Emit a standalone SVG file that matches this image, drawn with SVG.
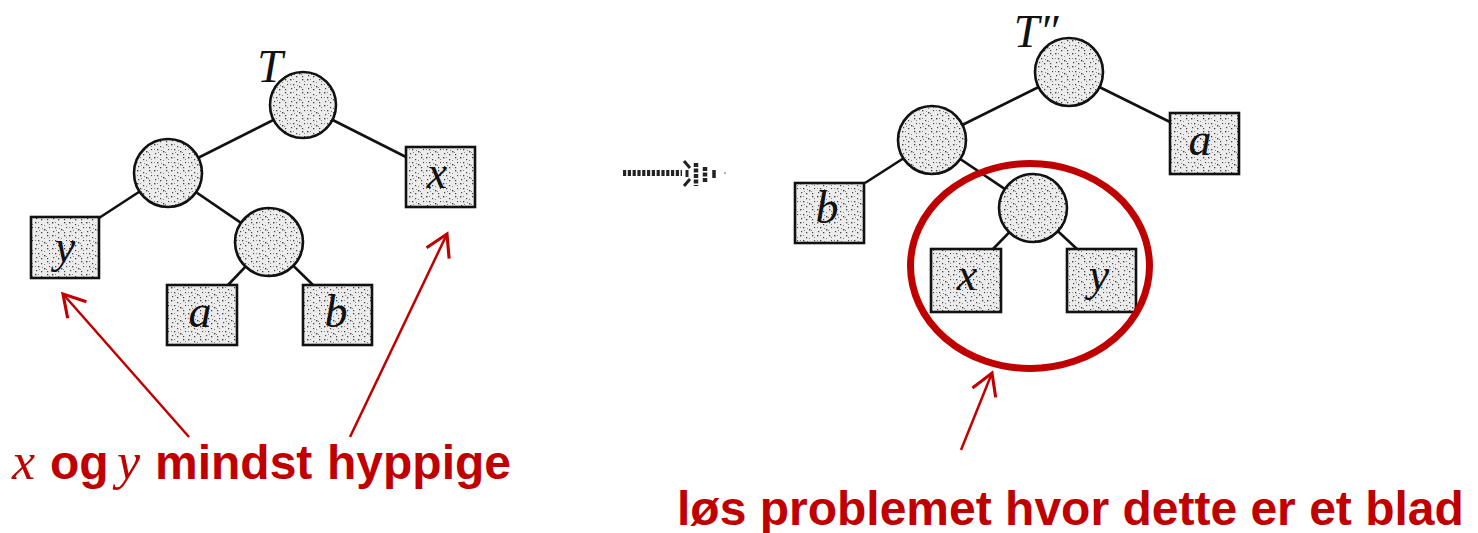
<svg xmlns="http://www.w3.org/2000/svg" width="1478" height="533" viewBox="0 0 1478 533">
<defs>
<pattern id="stip" width="17" height="13" patternUnits="userSpaceOnUse">
<rect width="17" height="13" fill="#ececec"/>
<g fill="#444">
<rect x="1" y="1" width="1.4" height="1.4"/>
<rect x="7" y="3" width="1.2" height="1.2"/>
<rect x="13" y="1" width="1.3" height="1.3"/>
<rect x="4" y="6" width="1.3" height="1.3"/>
<rect x="10" y="8" width="1.4" height="1.4"/>
<rect x="15" y="6" width="1.1" height="1.1"/>
<rect x="2" y="10" width="1.2" height="1.2"/>
<rect x="7" y="11" width="1.3" height="1.3"/>
<rect x="13" y="11" width="1.2" height="1.2"/>
</g>
<g fill="#888">
<rect x="4" y="1" width="1" height="1"/>
<rect x="10" y="4" width="1" height="1"/>
<rect x="1" y="6" width="1" height="1"/>
<rect x="8" y="7" width="1" height="1"/>
<rect x="12" y="9" width="1" height="1"/>
<rect x="5" y="9" width="1" height="1"/>
<rect x="15" y="3" width="1" height="1"/>
</g>
</pattern>
<marker id="ah" markerUnits="userSpaceOnUse" markerWidth="30" markerHeight="30" viewBox="-20 -12 22 24" refX="0" refY="0" orient="auto">
<path d="M-17,-10 L0,0 L-17,10" fill="none" stroke="#C00000" stroke-width="2.5"/>
</marker>
<style>
.n{fill:url(#stip);stroke:#111;stroke-width:2.6}
.e{stroke:#111;stroke-width:2.6;fill:none}
.lb{font-family:"Liberation Serif",serif;font-style:italic;font-size:46px;fill:#111;text-anchor:middle}
.red{stroke:#C00000;stroke-width:2.5;fill:none}
.rt{font-family:"Liberation Sans",Arial,sans-serif;font-weight:bold;font-size:48px;fill:#C00000}
.ri{font-family:"Liberation Serif",serif;font-style:italic;font-weight:normal;font-size:52px;fill:#C00000}
.da{stroke:#222;fill:none}
</style>
</defs>
<rect width="1478" height="533" fill="#ffffff"/>

<g id="connectors">
<line class="e" x1="303" y1="105" x2="168" y2="173"/>
<line class="e" x1="303" y1="105" x2="406" y2="157"/>
<line class="e" x1="168" y1="173" x2="99" y2="218"/>
<line class="e" x1="168" y1="173" x2="269" y2="242"/>
<line class="e" x1="269" y1="242" x2="228" y2="285"/>
<line class="e" x1="269" y1="242" x2="313" y2="285"/>
<line class="e" x1="1069" y1="72" x2="932" y2="140"/>
<line class="e" x1="1069" y1="72" x2="1170" y2="122"/>
<line class="e" x1="932" y1="140" x2="865" y2="183"/>
<line class="e" x1="932" y1="140" x2="1033" y2="208"/>
<line class="e" x1="1033" y1="208" x2="993" y2="249"/>
<line class="e" x1="1033" y1="208" x2="1077" y2="249"/>
</g>

<g id="left-root"><circle class="n" cx="303" cy="105" r="33"/><text class="lb" x="270" y="82" font-size="44">T</text></g>
<g id="left-inner1"><circle class="n" cx="168" cy="173" r="34"/></g>
<g id="left-inner2"><circle class="n" cx="269" cy="242" r="34"/></g>
<g id="left-x"><rect class="n" x="406" y="147" width="69" height="60"/><text class="lb" x="437" y="188">x</text></g>
<g id="left-y"><rect class="n" x="31" y="217" width="68" height="61"/><text class="lb" x="65" y="262">y</text></g>
<g id="left-a"><rect class="n" x="167" y="285" width="70" height="60"/><text class="lb" x="200" y="327">a</text></g>
<g id="left-b"><rect class="n" x="303" y="285" width="69" height="60"/><text class="lb" x="336" y="327">b</text></g>

<g id="transform-arrow">
<line class="da" x1="623" y1="173" x2="682" y2="173" stroke-width="6" stroke-dasharray="3.2 1.6"/>
<line class="da" x1="684" y1="161" x2="690" y2="168" stroke-width="3"/>
<line class="da" x1="684" y1="186" x2="690" y2="179" stroke-width="3"/>
<line class="da" x1="687" y1="170" x2="687" y2="177" stroke-width="3"/>
<line class="da" x1="696" y1="163" x2="696" y2="186" stroke-width="4.5" stroke-dasharray="4 1.5"/>
<line class="da" x1="705" y1="167" x2="705" y2="183" stroke-width="4.5" stroke-dasharray="4 1.5"/>
<line class="da" x1="714" y1="170" x2="714" y2="178" stroke-width="3.5"/>
<circle cx="725" cy="173" r="1" fill="#999"/>
</g>

<g id="right-root"><circle class="n" cx="1069" cy="72" r="34"/><text class="lb" x="1036" y="47" font-size="44">T″</text></g>
<g id="right-inner1"><circle class="n" cx="932" cy="140" r="34"/></g>
<g id="right-inner2"><circle class="n" cx="1033" cy="208" r="34"/></g>
<g id="right-a"><rect class="n" x="1170" y="113" width="69" height="61"/><text class="lb" x="1200" y="155">a</text></g>
<g id="right-b"><rect class="n" x="795" y="183" width="69" height="60"/><text class="lb" x="827" y="223">b</text></g>
<g id="right-x"><rect class="n" x="931" y="249" width="70" height="63"/><text class="lb" x="967" y="290">x</text></g>
<g id="right-y"><rect class="n" x="1067" y="249" width="69" height="63"/><text class="lb" x="1099" y="290">y</text></g>

<g id="highlight">
<ellipse cx="1030" cy="266" rx="119.5" ry="102.5" fill="none" stroke="#C00000" stroke-width="7"/>
</g>

<g id="annotations">
<line class="red" x1="189" y1="437" x2="63" y2="294" marker-end="url(#ah)"/>
<line class="red" x1="350" y1="437" x2="447" y2="234" marker-end="url(#ah)"/>
<line class="red" x1="961" y1="450" x2="992" y2="373" marker-end="url(#ah)"/>
<text y="479"><tspan class="ri" x="12">x</tspan><tspan class="rt" x="50">og</tspan><tspan class="ri" x="117">y</tspan><tspan class="rt" x="155">mindst</tspan><tspan class="rt" x="327">hyppige</tspan></text>
<text class="rt" x="677" y="525">løs problemet hvor dette er et blad</text>
</g>
</svg>
